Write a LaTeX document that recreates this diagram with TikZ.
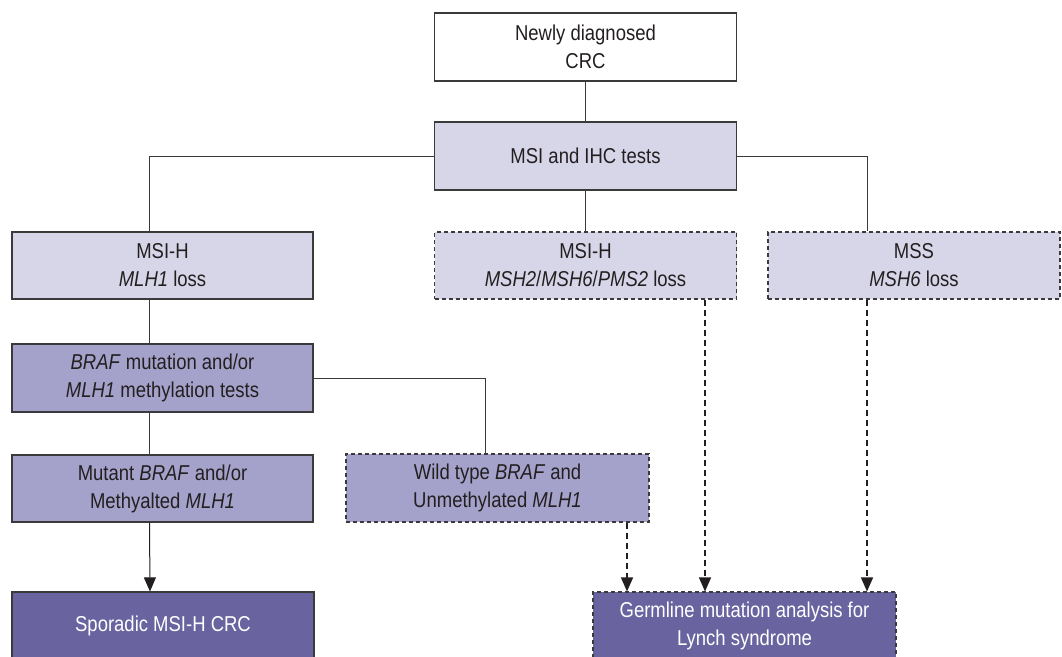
\documentclass[tikz,border=0pt]{standalone}
\usepackage{fontspec}
\setmainfont[FakeStretch=0.86]{Liberation Sans}
\usetikzlibrary{arrows.meta}
\definecolor{txt}{HTML}{231F20}
\definecolor{bord}{HTML}{3A3A3A}
\definecolor{arr}{HTML}{231F20}
\definecolor{lightp}{HTML}{D7D6E9}
\definecolor{midp}{HTML}{A4A2CA}
\definecolor{darkp}{HTML}{69639F}
\begin{document}
\begin{tikzpicture}[x=1pt,y=1pt,
  box/.style={draw=bord, line width=1.1pt, minimum width=302pt, minimum height=67pt,
    align=center, inner sep=0pt, text=txt, font=\fontsize{21.5}{28}\selectfont},
  dashbox/.style={box, dash pattern=on 4pt off 3pt},
  conn/.style={draw=bord, line width=1pt},
  dconn/.style={draw=arr, line width=1.3pt, dash pattern=on 6pt off 4pt, -{Triangle[length=14pt,width=12pt]}},
  aconn/.style={draw=arr, line width=1pt, -{Triangle[length=14pt,width=12pt]}}]
\useasboundingbox (0,0) rectangle (1062,-656);
\node[box, fill=white, minimum height=68pt] (newly) at (585.5,-47) {Newly diagnosed\\CRC};
\node[box, fill=lightp, minimum height=68pt] (msi) at (585.5,-156) {MSI and IHC tests};
\node[box, fill=lightp, minimum width=301pt] (msih) at (162.5,-265.5) {MSI-H\\\textit{MLH1} loss};
\node[dashbox, fill=lightp] (msih2) at (585.5,-265.5) {MSI-H\\\textit{MSH2}/\textit{MSH6}/\textit{PMS2} loss};
\node[dashbox, fill=lightp, minimum width=292pt] (mss) at (914,-265.5) {MSS\\\textit{MSH6} loss};
\node[box, fill=midp, minimum width=301pt, minimum height=68pt] (braf) at (162.5,-378) {\textit{BRAF} mutation and/or\\\textit{MLH1} methylation tests};
\node[box, fill=midp, minimum width=301pt] (mutant) at (162.5,-488.5) {Mutant \textit{BRAF} and/or\\Methyalted \textit{MLH1}};
\node[dashbox, fill=midp, minimum width=303pt, minimum height=68pt] (wild) at (497.5,-488) {Wild type \textit{BRAF} and\\Unmethylated \textit{MLH1}};
\node[box, fill=darkp, text=white] (sporadic) at (163,-625.5) {Sporadic MSI-H CRC};
\node[dashbox, fill=darkp, text=white, minimum width=303pt] (germ) at (744.5,-625.5) {Germline mutation analysis for\\Lynch syndrome};

\draw[conn] (newly.south) -- (msi.north);
\draw[conn] (msi.west) -| ([xshift=-13.5pt]msih.north);
\draw[conn] (msi.east) -| ([xshift=-47pt]mss.north);
\draw[conn] (msi.south) -- (msih2.north);
\draw[conn] ([xshift=-13.5pt]msih.south) -- ([xshift=-13.5pt]braf.north);
\draw[conn] (braf.east) -| ([xshift=-12.5pt]wild.north);
\draw[conn] ([xshift=-13pt]braf.south) -- ([xshift=-13pt]mutant.north);
\draw[aconn] ([xshift=-13pt]mutant.south) -- ([xshift=-13pt]sporadic.north);
\draw[dconn] ([xshift=129.5pt]wild.south) -- ([xshift=129.5pt]wild.south |- germ.north);
\draw[dconn] ([xshift=119.5pt]msih2.south) -- ([xshift=119.5pt]msih2.south |- germ.north);
\draw[dconn] ([xshift=-47pt]mss.south) -- ([xshift=-47pt]mss.south |- germ.north);
\end{tikzpicture}
\end{document}
